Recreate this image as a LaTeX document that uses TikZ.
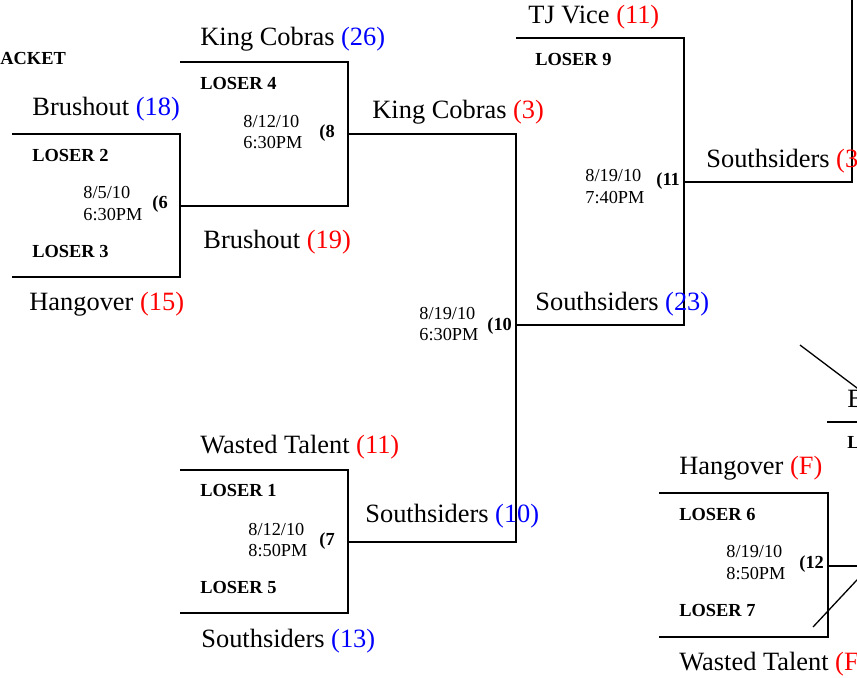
\documentclass[tikz,border=0pt]{standalone}
\usepackage{fontspec}
\setmainfont{Liberation Serif}
\definecolor{sred}{RGB}{255,0,0}
\definecolor{sblue}{RGB}{0,0,255}
\begin{document}
\begin{tikzpicture}[x=0.5pt,y=-0.5pt,
 team/.style={anchor=base west,inner sep=0pt,font=\fontsize{13.2}{15}\selectfont},
 loser/.style={anchor=base west,inner sep=0pt,font=\fontsize{9.2}{11}\selectfont\bfseries},
 when/.style={anchor=base west,inner sep=0pt,font=\fontsize{9.15}{11}\selectfont},
 gnum/.style={anchor=base west,inner sep=0pt,font=\fontsize{9.2}{11}\selectfont\bfseries},
 bline/.style={line width=1pt},
 diag/.style={line width=0.65pt}]
\useasboundingbox (0,0) rectangle (857,677);
\clip (0,0) rectangle (857,677);
\fill[white] (0,0) rectangle (857,677);

% bracket coordinates
\coordinate (g6t) at (12,134);   \coordinate (g6v) at (180,277); \coordinate (g6b) at (12,277);
\coordinate (g8t) at (180,62);   \coordinate (g8v) at (348,206); \coordinate (g8b) at (180,206);
\coordinate (g10t) at (348,134); \coordinate (g10v) at (516,542); \coordinate (g10b) at (348,542);
\coordinate (g7t) at (180,470);  \coordinate (g7v) at (348,613); \coordinate (g7b) at (180,613);
\coordinate (g11t) at (516,38);  \coordinate (g11v) at (684,325); \coordinate (g11b) at (516,325);
\coordinate (g11o) at (684,182); \coordinate (fin) at (852,-5);
\coordinate (g12t) at (659,493); \coordinate (g12v) at (828,637); \coordinate (g12b) at (659,637);
\coordinate (g12o) at (828,566); \coordinate (g12e) at (865,566);
\coordinate (rl1) at (827,422);  \coordinate (rl2) at (865,422);
\coordinate (d1a) at (800,345);  \coordinate (d1b) at (870,397.8);
\coordinate (d2a) at (813,627);  \coordinate (d2b) at (870,566);

\draw[bline] (g6t) -| (g6v) -- (g6b);
\draw[bline] (g8t) -| (g8v) -- (g8b);
\draw[bline] (g10t) -| (g10v) -- (g10b);
\draw[bline] (g7t) -| (g7v) -- (g7b);
\draw[bline] (g11t) -| (g11v) -- (g11b);
\draw[bline] (g11o) -| (fin);
\draw[bline] (g12t) -| (g12v) -- (g12b);
\draw[bline] (g12o) -- (g12e);
\draw[bline] (rl1) -- (rl2);
\draw[diag] (d1a) -- (d1b);
\draw[diag] (d2a) -- (d2b);

% texts
\node[loser] (title) at (0,64) {ACKET};

\node[team] (t1) at (200,45) {King Cobras \textcolor{sblue}{(26)}};
\node[loser] (l4) at (200,89) {LOSER 4};
\node[when] (w8a) at (243,127) {8/12/10};
\node[when] (w8b) at (243,148) {6:30PM};
\node[gnum] (n8) at (319,137) {(8};

\node[team] (t2) at (32,115) {Brushout \textcolor{sblue}{(18)}};
\node[loser] (l2) at (32,161) {LOSER 2};
\node[when] (w6a) at (83,198) {8/5/10};
\node[when] (w6b) at (83,220) {6:30PM};
\node[gnum] (n6) at (152,208) {(6};
\node[loser] (l3) at (32,257) {LOSER 3};
\node[team] (t3) at (29,310) {Hangover \textcolor{sred}{(15)}};
\node[team] (t4) at (203,248) {Brushout \textcolor{sred}{(19)}};

\node[team] (t5) at (372,118) {King Cobras \textcolor{sred}{(3)}};
\node[team] (t6) at (528,23) {TJ Vice \textcolor{sred}{(11)}};
\node[loser] (l9) at (535,65) {LOSER 9};
\node[when] (w11a) at (585,181) {8/19/10};
\node[when] (w11b) at (585,203) {7:40PM};
\node[gnum] (n11) at (656,185) {(11};
\node[team] (t7) at (706,167) {Southsiders \textcolor{sred}{(3)}};
\node[team] (t8) at (535,310) {Southsiders \textcolor{sblue}{(23)}};

\node[when] (w10a) at (419,319) {8/19/10};
\node[when] (w10b) at (419,340) {6:30PM};
\node[gnum] (n10) at (487,330) {(10};

\node[team] (t9) at (200,453) {Wasted Talent \textcolor{sred}{(11)}};
\node[loser] (l1) at (200,496) {LOSER 1};
\node[when] (w7a) at (248,535) {8/12/10};
\node[when] (w7b) at (248,556) {8:50PM};
\node[gnum] (n7) at (319,545) {(7};
\node[loser] (l5) at (200,593) {LOSER 5};
\node[team] (t10) at (201,647) {Southsiders \textcolor{sblue}{(13)}};
\node[team] (t11) at (365,522) {Southsiders \textcolor{sblue}{(10)}};

\node[team] (t12) at (847,407) {B};
\node[loser] (l8) at (847,448) {L};

\node[team] (t13) at (679,474) {Hangover \textcolor{sred}{(F)}};
\node[loser] (l6) at (679,520) {LOSER 6};
\node[when] (w12a) at (726,557) {8/19/10};
\node[when] (w12b) at (726,579) {8:50PM};
\node[gnum] (n12) at (799,568) {(12};
\node[loser] (l7) at (679,616) {LOSER 7};
\node[team] (t14) at (679,670) {Wasted Talent \textcolor{sred}{(F)}};
\end{tikzpicture}
\end{document}
